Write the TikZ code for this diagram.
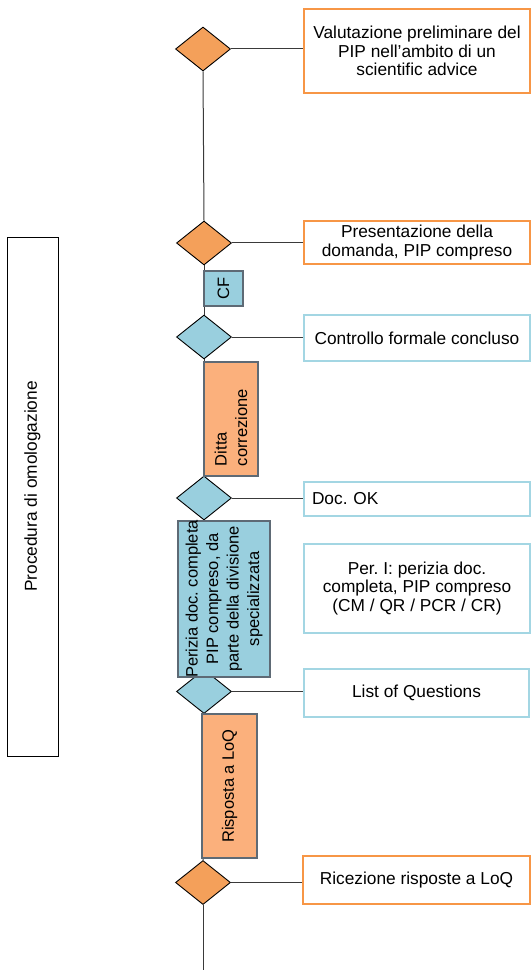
\documentclass[tikz,border=0pt]{standalone}
\usepackage{fontspec}
\setmainfont{Liberation Sans}
\usetikzlibrary{shapes.geometric,backgrounds}
\definecolor{dorange}{HTML}{F4A05A}
\definecolor{borange}{HTML}{F79646}
\definecolor{forange}{HTML}{FBB07C}
\definecolor{dblue}{HTML}{99CFDE}
\definecolor{bblue}{HTML}{A3D6E3}
\definecolor{rgray}{HTML}{5E6A75}
\definecolor{lgray}{HTML}{3A3A3A}
\frenchspacing
\begin{document}
\begin{tikzpicture}[x=1pt,y=-1pt,
  txt/.style={font=\fontsize{17.3}{18.5}\selectfont},
  rtxt/.style={font=\fontsize{16.5}{20.5}\selectfont},
  dia/.style={diamond,draw=black,line width=0.9pt,minimum width=55pt,minimum height=44pt,inner sep=0pt},
  odia/.style={dia,fill=dorange},
  bdia/.style={dia,fill=dblue},
  obox/.style={draw=borange,line width=1.8pt,fill=white,txt,align=center,inner sep=0pt},
  bbox/.style={draw=bblue,line width=1.5pt,fill=white,txt,align=center,inner sep=0pt},
  vbox/.style={draw=rgray,line width=1.2pt,rtxt,rotate=90,inner sep=0pt},
  conn/.style={draw=lgray,line width=1pt}]
\useasboundingbox (0,0) rectangle (531,973);

% left frame
\node[draw=black,line width=0.9pt,minimum width=519pt,minimum height=51pt,rotate=90,inner sep=0pt,font=\fontsize{17.3}{20}\selectfont] (proc) at (32.5,496.5) {\hspace*{20pt}Procedura di omologazione};

% diamonds
\node[odia] (d1) at (203,49) {};
\node[odia] (d2) at (204,243) {};
\node[bdia] (d3) at (204,337) {};
\node[bdia] (d4) at (204,498) {};
\node[bdia] (d5) at (204,691.5) {};
\node[odia] (d6) at (203,882.5) {};
\coordinate (end) at (203,970);

% right boxes
\node[obox,minimum width=226pt,minimum height=84pt] (b1) at (417,51) {Valutazione preliminare del\\PIP nell’ambito di un\\scientific advice};
\node[obox,minimum width=226pt,minimum height=43pt] (b2) at (417,242.5) {Presentazione della\\domanda, PIP compreso};
\node[bbox,minimum width=226pt,minimum height=46pt] (b3) at (417,338) {Controllo formale concluso};
\node[bbox,minimum width=226pt,minimum height=34pt,text width=210pt,align=left] (b4) at (417,499) {Doc. OK};
\node[bbox,minimum width=226pt,minimum height=89pt] (b5) at (417,588.5) {Per. I: perizia doc.\\completa, PIP compreso\\(CM / QR / PCR / CR)};
\node[bbox,minimum width=225pt,minimum height=48pt] (b6) at (416.5,693) {List of Questions};
\node[obox,minimum width=227pt,minimum height=48pt] (b7) at (416.5,880) {Ricezione risposte a LoQ};

% vertical boxes on the line
\node[vbox,fill=dblue,minimum width=35pt,minimum height=39pt] (cf) at (223.5,288.5) {CF};
\node[vbox,fill=forange,minimum width=114pt,minimum height=54pt,text width=94pt,align=left] (dc) at (231,419) {Ditta\\correzione};
\node[vbox,fill=dblue,minimum width=156pt,minimum height=92pt,inner xsep=-1pt,align=center] (per) at (224,599) {Perizia doc. completa\\PIP compreso, da\\parte della divisione\\specializzata};
\node[vbox,fill=forange,minimum width=144pt,minimum height=55pt] (rl) at (229.5,786) {Risposta a LoQ};

\begin{scope}[on background layer]
\draw[conn] (d1.south) -- (d2.north);
\draw[conn] (d2.south) -- (d3.north);
\draw[conn] (d3.south) -- (d4.north);
\draw[conn] (d4.south) -- (d5.north);
\draw[conn] (d5.south) -- (d6.north);
\draw[conn] (d6.south) -- (end);
\draw[conn] (d1.east) -- (b1.west |- d1.east);
\draw[conn] (d2.east) -- (b2.west |- d2.east);
\draw[conn] (d3.east) -- (b3.west |- d3.east);
\draw[conn] (d4.east) -- (b4.west |- d4.east);
\draw[conn] (d5.east) -- (b6.west |- d5.east);
\draw[conn] (d6.east) -- (b7.west |- d6.east);
\end{scope}
\end{tikzpicture}
\end{document}
